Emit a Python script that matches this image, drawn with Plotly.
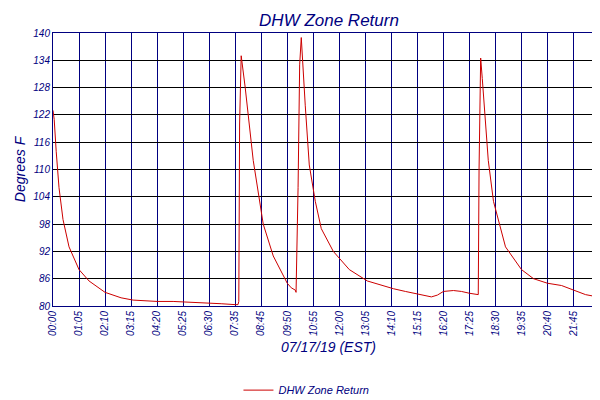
import plotly.graph_objects as go

# minutes since midnight (chart units) and temperature
minutes = [0, 3, 8, 15, 25, 40, 65, 90, 130, 170, 200, 260, 300, 330, 360, 390, 420, 455, 462,
           464, 466, 470, 480, 500, 525, 550, 575, 585, 595, 605, 607, 612, 616, 620, 630, 640,
           655, 670, 700, 740, 785, 820, 850, 880, 910, 945, 960, 975, 1000, 1020, 1040, 1058,
           1062, 1064, 1068, 1072, 1080, 1087, 1100, 1130, 1170, 1200, 1235, 1270, 1300, 1330, 1360, 1372]
temps = [123, 121, 114, 106, 99, 93, 88, 85.5, 83, 81.8, 81.3, 81, 81, 80.9, 80.8, 80.6, 80.5, 80.3, 80.3,
         81, 120, 135, 128, 112, 98, 91, 86.5, 85, 84, 83.5, 83, 106, 133, 139, 124, 111,
         103, 97, 92, 88, 85.5, 84.5, 83.8, 83.2, 82.6, 82, 82.4, 83.2, 83.4, 83.2, 82.8, 82.5,
         82.5, 110, 134.5, 130, 120, 112, 103, 93, 88, 86, 85, 84.5, 83.5, 82.5, 82, 82]

tick_vals = [i * 65 for i in range(22)] + [1374]
tick_text = ["00:00", "01:05", "02:10", "03:15", "04:20", "05:25", "06:30", "07:35", "08:45",
             "09:50", "10:55", "12:00", "13:05", "14:10", "15:15", "16:20", "17:25", "18:30",
             "19:35", "20:40", "21:45", "22:50", "23:59"]

navy = "#000080"

fig = go.Figure()
fig.add_trace(go.Scatter(x=minutes, y=temps, mode="lines", name="DHW Zone Return",
                         line=dict(color="#cc0000", width=1)))

fig.update_layout(
    width=600, height=400,
    margin=dict(l=45, r=4, t=25, b=78),
    paper_bgcolor="white", plot_bgcolor="white",
    title=dict(text="DHW Zone Return", x=0.535, y=0.985, xanchor="center", yanchor="top",
               font=dict(family="Liberation Sans", size=17, color=navy, style="italic")),
    font=dict(family="Liberation Sans", color=navy, style="italic"),
    showlegend=True,
    legend=dict(orientation="h", x=0.46, xanchor="center", y=-0.255, yanchor="top",
                font=dict(family="Liberation Sans", size=11, color=navy, style="italic")),
    xaxis=dict(range=[0, 1376], tickvals=tick_vals, ticktext=tick_text, tickangle=-90,
               automargin=False,
               showgrid=True, gridcolor=navy, gridwidth=1, showline=True, linecolor=navy,
               mirror=True, zeroline=False, tickfont=dict(size=10, color=navy, style="italic"),
               title=dict(text="07/17/19 (EST)", standoff=6,
                          font=dict(size=14, color=navy, style="italic"))),
    yaxis=dict(range=[80, 140], tick0=80, dtick=6, showgrid=True, gridcolor="black", gridwidth=1,
               automargin=False,
               showline=True, linecolor=navy, mirror=True, zeroline=False,
               tickfont=dict(size=10, color=navy, style="italic"),
               title=dict(text="Degrees F", standoff=4,
                          font=dict(size=14, color=navy, style="italic"))),
)

fig.write_html("out.html")
